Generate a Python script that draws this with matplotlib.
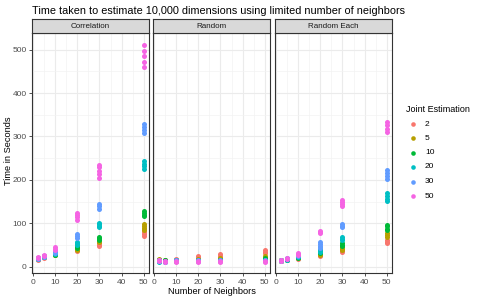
import matplotlib
matplotlib.use("Agg")
import matplotlib.pyplot as plt
from matplotlib.lines import Line2D
from matplotlib.ticker import MultipleLocator

plt.rcParams['font.family'] = ['Liberation Sans', 'DejaVu Sans']

neighbors = [2, 5, 10, 20, 30, 50]
panels = ["Correlation", "Random", "Random Each"]
joint = ["2", "5", "10", "20", "30", "50"]
colors = ["#F8766D", "#B79F00", "#00BA38", "#00BFC4", "#619CFF", "#F564E3"]

# repeated timings per neighbor count, one list per joint-estimation value
corr_2 = [[17, 19, 21], [21, 23], [27, 29], [37, 39, 41], [47, 50, 53, 55], [72, 76, 80, 85]]
corr_5 = [[18, 20], [22, 24], [28, 30], [40, 42, 44], [57, 60, 63], [86, 90, 94, 98]]
corr_10 = [[18, 20], [22, 24], [28, 31], [44, 47, 50], [63, 66, 69], [116, 120, 124, 129]]
corr_20 = [[19, 21], [23, 25], [30, 33], [50, 54, 58], [91, 95, 99, 102], [225, 231, 237, 243]]
corr_30 = [[19, 21], [23, 26], [32, 36], [66, 71, 76], [134, 139, 144], [307, 314, 321, 328]]
corr_50 = [[20, 22], [25, 28], [38, 42, 46], [108, 114, 119, 124], [205, 213, 221, 229, 235], [460, 472, 485, 497, 510]]

rand_2 = [[14, 17], [13, 15], [15, 18], [19, 22, 25], [22, 26, 30], [31, 35, 38]]
rand_5 = [[15, 18], [13, 15], [14, 16], [15, 18], [17, 20], [21, 24]]
rand_10 = [[15, 17], [13, 15], [14, 16], [14, 16], [15, 17], [18, 21]]
rand_20 = [[12, 14], [12, 14], [13, 15], [13, 15], [14, 16], [15, 17]]
rand_30 = [[13, 15], [12, 14], [13, 15], [13, 15], [13, 15], [14, 16]]
rand_50 = [[13, 15], [12, 14], [12, 14], [11, 14], [12, 14], [11, 14]]

each_2 = [[14, 16], [17, 19], [19, 21], [25, 28, 30], [35, 38, 41], [55, 58, 62]]
each_5 = [[14, 16], [17, 19], [20, 22], [28, 31], [39, 42, 45], [69, 73, 77]]
each_10 = [[14, 16], [16, 18], [21, 23], [31, 34, 37], [48, 51, 54], [84, 88, 93, 97]]
each_20 = [[13, 15], [17, 19], [23, 26], [35, 39, 43], [62, 65, 69], [151, 157, 163, 169]]
each_30 = [[14, 16], [18, 20], [25, 28], [43, 48, 53, 57], [91, 95, 99], [203, 209, 215, 222]]
each_50 = [[14, 16], [18, 20], [27, 30, 33], [77, 80, 83], [139, 144, 149, 153], [310, 318, 326, 334]]

panel_data = [
    [corr_2, corr_5, corr_10, corr_20, corr_30, corr_50],
    [rand_2, rand_5, rand_10, rand_20, rand_30, rand_50],
    [each_2, each_5, each_10, each_20, each_30, each_50],
]

W, H = 480.0, 300.0
fig = plt.figure(figsize=(4.8, 3.0), dpi=100)
lefts = [32.3, 153.3, 275.3]
pw = 116.7
top, bottom = 33.0, 273.0
strip_h = 14.0
border = "#333333"

for i, name in enumerate(panels):
    ax = fig.add_axes([lefts[i] / W, 1 - bottom / H, pw / W, (bottom - top) / H])
    for series, col in zip(panel_data[i], colors):
        for xv, reps in zip(neighbors, series):
            ax.scatter([xv] * len(reps), reps, s=13, color=col, linewidths=0, zorder=3)
    ax.set_xlim(-0.4, 52.4)
    ax.set_ylim(-14, 538)
    ax.xaxis.set_major_locator(MultipleLocator(10))
    ax.xaxis.set_minor_locator(MultipleLocator(5))
    ax.yaxis.set_major_locator(MultipleLocator(100))
    ax.yaxis.set_minor_locator(MultipleLocator(50))
    ax.grid(which="major", color="#EBEBEB", linewidth=0.8, zorder=0)
    ax.grid(which="minor", color="#F2F2F2", linewidth=0.45, zorder=0)
    ax.set_axisbelow(True)
    for sp in ax.spines.values():
        sp.set_color(border)
        sp.set_linewidth(0.8)
    ax.tick_params(which="minor", length=0)
    ax.tick_params(which="major", length=2.5, width=0.6, color=border,
                   labelsize=6, labelcolor="#4D4D4D", pad=1.5)
    if i > 0:
        ax.tick_params(axis="y", left=False, labelleft=False)

    sax = fig.add_axes([lefts[i] / W, 1 - top / H, pw / W, strip_h / H])
    sax.set_facecolor("#D9D9D9")
    sax.set_xticks([])
    sax.set_yticks([])
    for sp in sax.spines.values():
        sp.set_color(border)
        sp.set_linewidth(0.8)
    sax.text(0.5, 0.5, name, ha="center", va="center", fontsize=5.8,
             color="#1A1A1A", transform=sax.transAxes)

fig.text(32 / W, 1 - 10.5 / H, "Time taken to estimate 10,000 dimensions using limited number of neighbors",
         ha="left", va="center", fontsize=7.8, color="black")
fig.text(212 / W, 1 - 291 / H, "Number of Neighbors", ha="center", va="center", fontsize=6.7)
fig.text(9 / W, 1 - 151 / H, "Time in Seconds", ha="center", va="center",
         rotation=90, fontsize=6.7)

fig.text(406 / W, 1 - 109.5 / H, "Joint Estimation", ha="left", va="center", fontsize=6.5)
leg_y = [124, 138.3, 152.7, 167, 181.5, 196]
for lab, col, yy in zip(joint, colors, leg_y):
    fig.add_artist(Line2D([413 / W], [1 - yy / H], marker="o", markersize=3.3,
                          markeredgewidth=0, color=col, transform=fig.transFigure))
    fig.text(425 / W, 1 - yy / H, lab, ha="left", va="center", fontsize=6, color="black")

fig.savefig("out.png", dpi=100, facecolor="white")
